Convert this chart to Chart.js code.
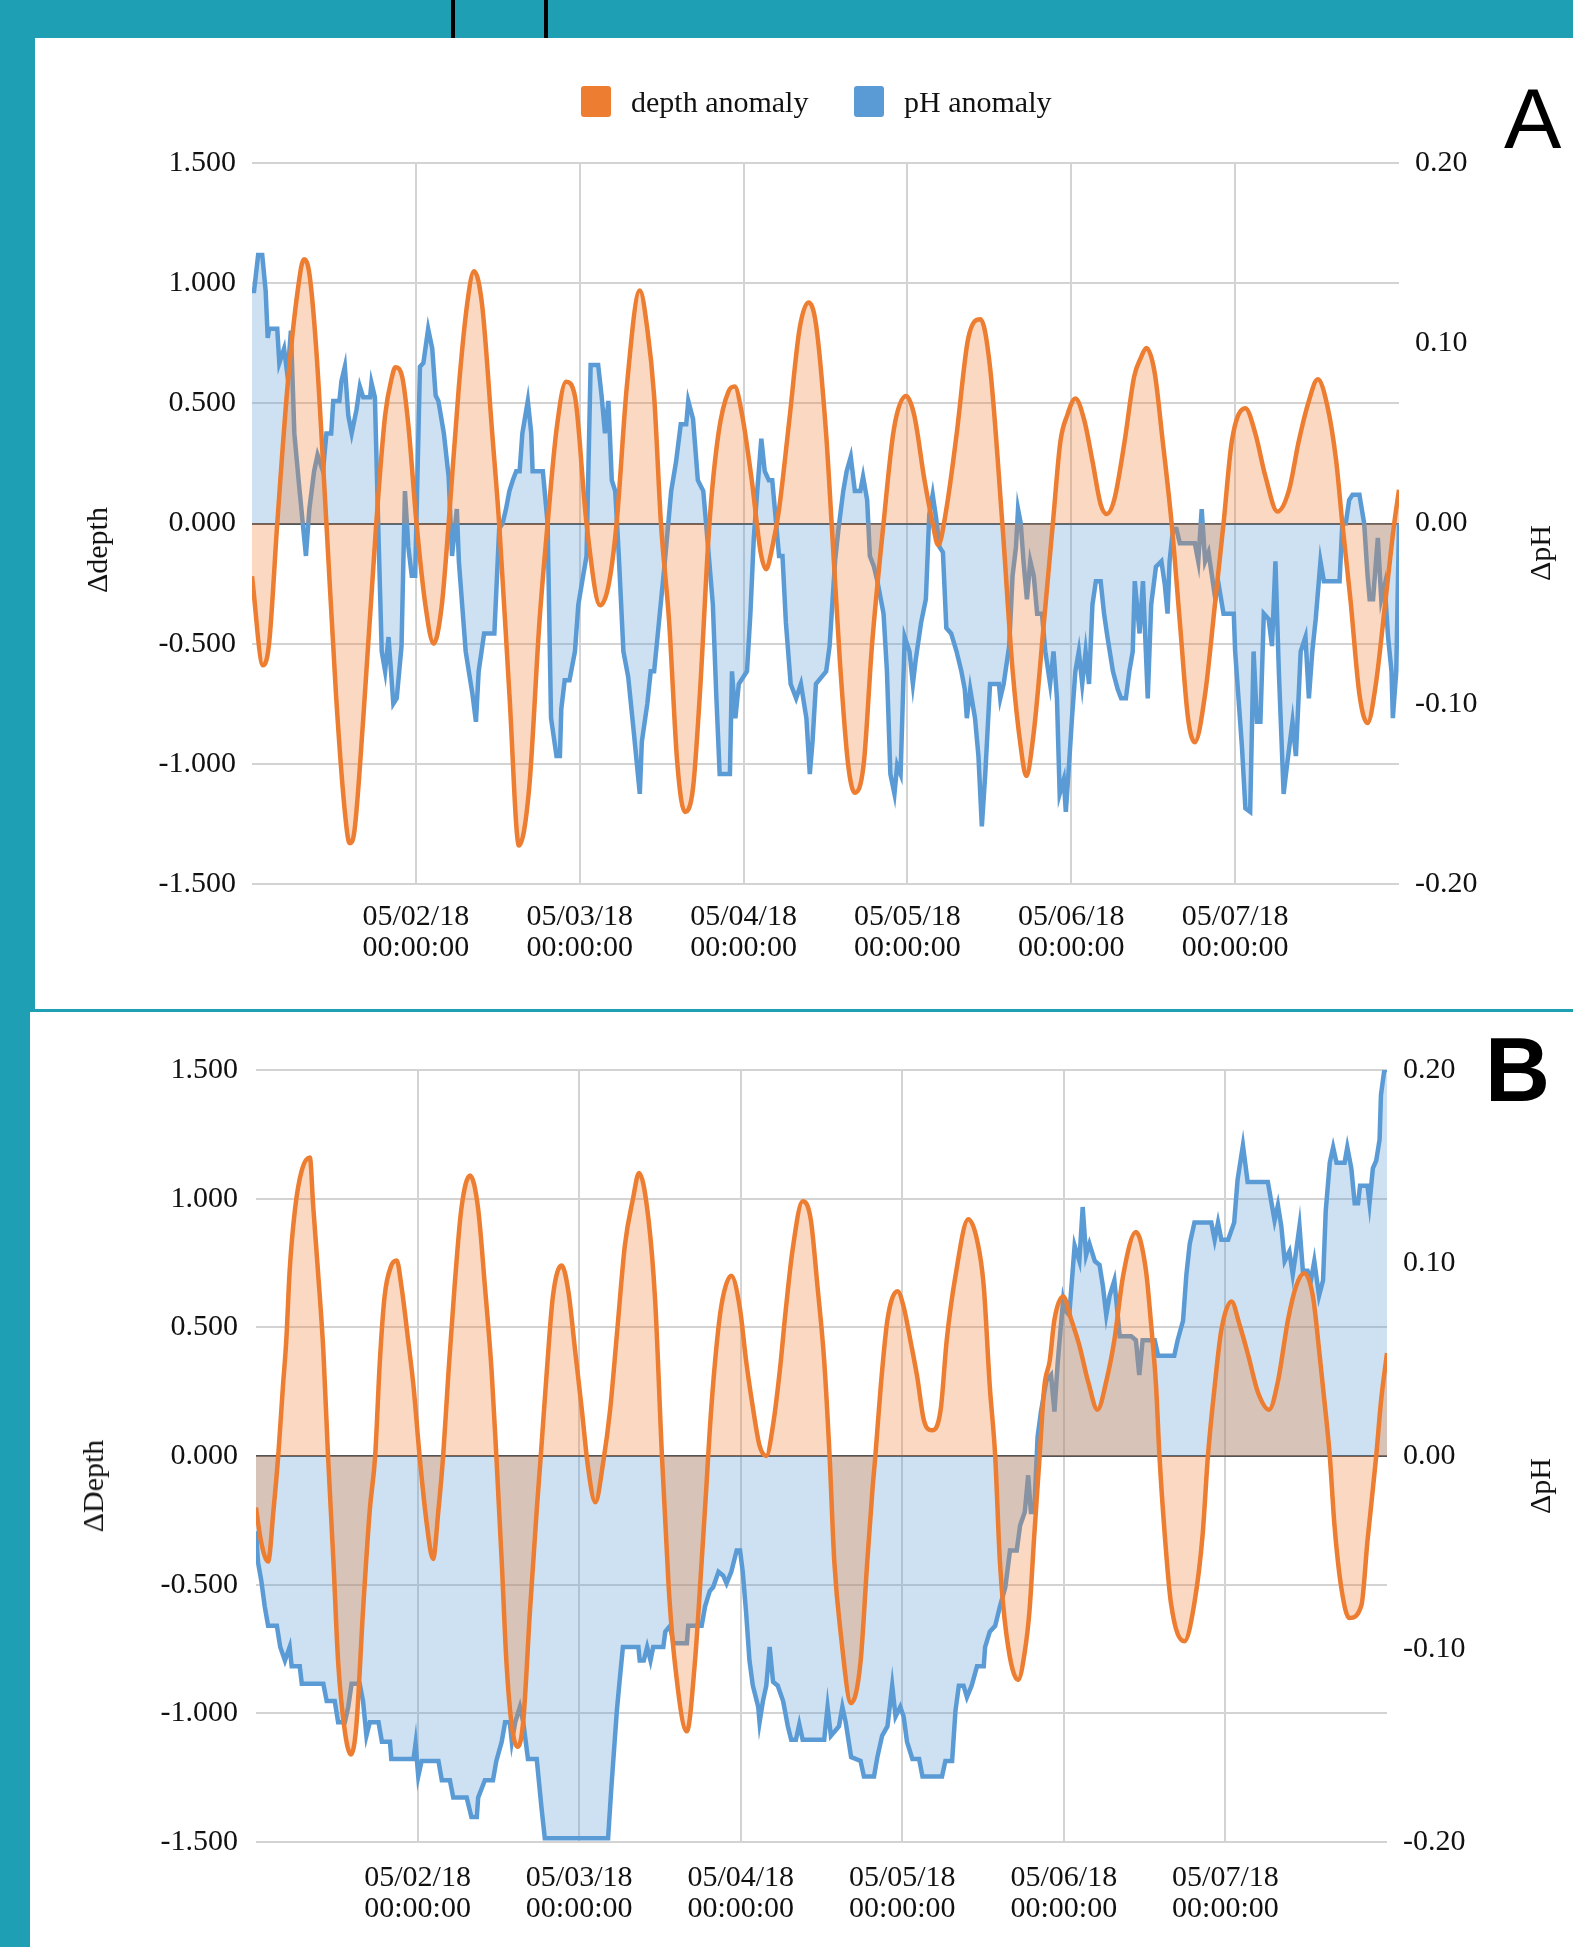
<!DOCTYPE html>
<html><head><meta charset="utf-8">
<script src="https://cdn.jsdelivr.net/npm/chart.js@4.4.1/dist/chart.umd.min.js"></script>
<style>
html,body{margin:0;padding:0;}
body{width:1573px;height:1947px;background:#1f9fb4;position:relative;overflow:hidden;font-family:"Liberation Serif","Times New Roman",serif;color:#111;}
.panel{position:absolute;background:#fff;}
.vline{position:absolute;top:0;width:4px;height:38px;background:#000;}
canvas{position:absolute;}
.t{position:absolute;font-size:30px;white-space:nowrap;line-height:1;}
.rot{transform:translate(-50%,-50%) rotate(-90deg);}
.box{position:absolute;width:30px;height:31px;border-radius:3px;}
.letter{position:absolute;font-family:"Liberation Sans",Arial,sans-serif;line-height:1;color:#000;}
</style></head>
<body>
<div class="vline" style="left:451px"></div>
<div class="vline" style="left:544px"></div>
<div class="panel" style="left:35px;top:38px;width:1538px;height:971px"></div>
<div class="panel" style="left:30px;top:1012px;width:1543px;height:935px"></div>
<canvas id="cA" width="1538" height="971" style="left:35px;top:38px;width:1538px;height:971px"></canvas>
<canvas id="cB" width="1543" height="935" style="left:30px;top:1012px;width:1543px;height:935px"></canvas>

<div class="box" style="left:581px;top:86px;background:#ed7d31"></div>
<div class="t" style="left:631px;top:87px;">depth anomaly</div>
<div class="box" style="left:854px;top:86px;background:#5b9bd5"></div>
<div class="t" style="left:904px;top:87px;">pH anomaly</div>

<div class="t rot" style="left:97px;top:550px;">Δdepth</div>
<div class="t rot" style="left:1540px;top:553px;">ΔpH</div>
<div class="t rot" style="left:93px;top:1486px;">ΔDepth</div>
<div class="t rot" style="left:1540px;top:1486px;">ΔpH</div>

<div class="letter" style="left:1504px;top:75px;font-size:86px;">A</div>
<div class="letter" style="left:1485px;top:1025px;font-size:90px;font-weight:bold;">B</div>

<script>
// time axis in hours since 05/01/18 00:00:00
const tickHours = [24, 48, 72, 96, 120, 144];
const tickLabels = [
  ["05/02/18","00:00:00"],["05/03/18","00:00:00"],["05/04/18","00:00:00"],
  ["05/05/18","00:00:00"],["05/06/18","00:00:00"],["05/07/18","00:00:00"]
];
const depthTicks = [-1.5, -1.0, -0.5, 0, 0.5, 1.0, 1.5];
const phTicks = [-0.2, -0.1, 0, 0.1, 0.2];

// Panel A: depth anomaly [hour, value]
const depthA = [[0,-0.22],[1.6,-0.59],[2.5,-0.5],[3.7,0],[5.2,0.57],[6.7,0.97],[7.6,1.1],[8.4,1.04],[9.4,0.73],[10.9,0],[12.3,-0.71],[13.6,-1.2],[14.3,-1.33],[15.0,-1.28],[16.3,-0.81],[18.2,0],[19.5,0.45],[20.5,0.61],[21.0,0.65],[22.0,0.61],[22.9,0.41],[24.1,0],[25.4,-0.34],[26.6,-0.5],[27.8,-0.34],[28.8,0],[30.3,0.57],[31.5,0.91],[32.5,1.05],[33.7,0.91],[35.2,0.37],[36.2,0],[37.7,-0.71],[39.1,-1.34],[40.6,-1.1],[42.1,-0.41],[43.3,0],[44.6,0.39],[46.0,0.59],[47.3,0.53],[49.0,0],[51.0,-0.34],[52.2,-0.26],[53.4,0],[54.9,0.57],[56.8,0.97],[57.9,0.81],[58.9,0.53],[59.9,0],[61.1,-0.41],[62.3,-1.0],[63.4,-1.2],[64.6,-1.1],[65.6,-0.71],[67.0,0],[68.3,0.37],[69.8,0.55],[70.7,0.57],[71.8,0.45],[73.2,0.18],[74.5,-0.12],[75.3,-0.19],[76.2,-0.1],[77.2,0.06],[78.7,0.43],[80.2,0.81],[81.5,0.92],[82.6,0.83],[84.1,0.37],[84.9,0],[86.1,-0.57],[87.3,-1.0],[88.3,-1.12],[89.6,-1.0],[90.8,-0.51],[92.5,0],[94.0,0.39],[95.8,0.53],[97.0,0.45],[98.5,0.18],[99.7,0],[100.5,-0.09],[101.7,0.06],[103.2,0.37],[104.9,0.77],[106.7,0.85],[108.1,0.65],[109.9,0],[111.4,-0.61],[112.6,-0.93],[113.4,-1.05],[114.5,-0.87],[116.0,-0.41],[117.3,0],[118.4,0.34],[119.4,0.45],[120.6,0.52],[121.9,0.43],[123.1,0.26],[124.3,0.08],[125.2,0.04],[126.3,0.1],[127.8,0.34],[129.2,0.61],[130.2,0.69],[131.0,0.73],[132.2,0.63],[133.4,0.34],[134.7,0],[135.9,-0.41],[137.1,-0.81],[138.1,-0.91],[139.6,-0.71],[141.1,-0.32],[142.3,0],[143.5,0.34],[145.5,0.48],[147.0,0.37],[148.4,0.2],[150.2,0.05],[151.9,0.14],[153.3,0.34],[154.8,0.51],[156.1,0.6],[157.5,0.49],[158.8,0.26],[159.7,0],[160.9,-0.32],[162.2,-0.71],[163.4,-0.83],[164.6,-0.67],[166.1,-0.3],[167.3,0],[168,0.14]];

// Panel A: pH anomaly [hour, value]
const phA = [[0,0.129],[0.3,0.129],[0.9,0.149],[1.5,0.149],[2.0,0.129],[2.3,0.103],[2.5,0.108],[3.7,0.108],[4.0,0.089],[4.7,0.097],[5.2,0.082],[5.7,0.107],[6.2,0.05],[6.9,0.021],[7.9,-0.018],[8.4,0.008],[9.1,0.029],[9.6,0.038],[10.4,0.029],[10.9,0.05],[11.6,0.05],[11.9,0.068],[12.8,0.068],[13.1,0.079],[13.6,0.087],[14.1,0.06],[14.6,0.05],[15.3,0.063],[15.8,0.076],[16.3,0.07],[17.3,0.07],[17.5,0.078],[18.0,0.07],[18.5,-0.003],[19.0,-0.071],[19.5,-0.082],[20.0,-0.063],[20.7,-0.1],[21.2,-0.097],[21.9,-0.068],[22.4,0.018],[22.9,-0.013],[23.4,-0.029],[23.9,-0.029],[24.6,0.087],[25.1,0.089],[25.8,0.108],[26.4,0.097],[26.9,0.071],[27.3,0.068],[28.1,0.05],[28.8,0.026],[29.3,-0.018],[30.0,0.008],[30.3,-0.021],[31.3,-0.071],[32.3,-0.095],[32.8,-0.11],[33.2,-0.082],[34.0,-0.061],[35.5,-0.061],[36.2,-0.003],[36.7,0],[37.2,0.008],[37.7,0.018],[38.2,0.024],[38.7,0.029],[39.2,0.029],[39.6,0.05],[40.4,0.068],[40.9,0.05],[41.1,0.029],[42.6,0.029],[43.3,0],[43.8,-0.108],[44.6,-0.129],[45.1,-0.129],[45.3,-0.103],[45.8,-0.087],[46.5,-0.087],[47.3,-0.071],[47.8,-0.045],[48.5,-0.029],[49.0,-0.018],[49.6,0.088],[50.7,0.088],[51.2,0.071],[51.7,0.05],[52.2,0.068],[52.7,0.024],[53.2,0.018],[53.7,-0.016],[54.4,-0.071],[55.1,-0.085],[55.9,-0.115],[56.8,-0.15],[57.1,-0.121],[57.9,-0.1],[58.4,-0.082],[58.9,-0.082],[59.6,-0.055],[60.4,-0.024],[61.4,0.018],[62.1,0.034],[62.8,0.055],[63.6,0.055],[63.9,0.068],[64.6,0.058],[65.3,0.024],[66.1,0.018],[66.8,-0.013],[67.5,-0.045],[68.0,-0.095],[68.5,-0.139],[70.0,-0.139],[70.3,-0.082],[70.8,-0.108],[71.3,-0.089],[72.5,-0.082],[73.0,-0.05],[73.5,-0.008],[74.0,0.018],[74.6,0.047],[75.1,0.029],[75.7,0.024],[76.2,0.024],[76.7,0.003],[77.2,-0.018],[77.7,-0.018],[78.2,-0.055],[78.9,-0.089],[79.7,-0.097],[80.4,-0.089],[81.2,-0.108],[81.7,-0.139],[82.1,-0.121],[82.6,-0.089],[84.1,-0.082],[84.6,-0.068],[85.4,-0.021],[85.9,-0.003],[86.6,0.018],[87.1,0.029],[87.7,0.037],[88.3,0.018],[89.1,0.018],[89.5,0.026],[90.1,0.013],[90.5,-0.018],[91.1,-0.024],[91.6,-0.032],[92.1,-0.042],[92.5,-0.05],[93.0,-0.082],[93.5,-0.139],[94.1,-0.15],[94.5,-0.134],[95.0,-0.139],[95.6,-0.063],[96.3,-0.071],[96.8,-0.089],[97.2,-0.076],[98.0,-0.055],[98.7,-0.042],[99.2,0.005],[99.7,0.016],[100.2,0.003],[100.7,-0.013],[101.2,-0.016],[101.7,-0.058],[102.4,-0.061],[103.2,-0.071],[103.9,-0.082],[104.4,-0.092],[104.7,-0.108],[105.2,-0.092],[105.9,-0.108],[106.4,-0.129],[106.9,-0.168],[107.4,-0.139],[108.1,-0.089],[109.4,-0.089],[109.6,-0.097],[110.1,-0.089],[110.9,-0.068],[111.4,-0.029],[111.9,-0.013],[112.2,0.008],[112.6,0.0],[113.0,-0.021],[113.5,-0.042],[114.0,-0.021],[114.5,-0.029],[115.0,-0.05],[115.7,-0.05],[116.2,-0.071],[116.9,-0.089],[117.4,-0.071],[117.9,-0.097],[118.3,-0.15],[118.9,-0.142],[119.2,-0.16],[119.7,-0.132],[120.1,-0.108],[120.6,-0.082],[121.1,-0.071],[121.6,-0.089],[122.1,-0.071],[122.6,-0.089],[123.1,-0.045],[123.6,-0.032],[124.3,-0.032],[124.8,-0.05],[125.3,-0.063],[126.1,-0.082],[126.8,-0.092],[127.3,-0.097],[128.0,-0.097],[128.5,-0.082],[129.0,-0.071],[129.3,-0.032],[130.0,-0.061],[130.5,-0.032],[131.2,-0.097],[131.7,-0.045],[132.4,-0.024],[133.2,-0.021],[133.7,-0.034],[134.1,-0.05],[134.4,-0.021],[134.9,-0.003],[135.4,-0.003],[135.9,-0.011],[138.1,-0.011],[138.6,-0.021],[139.1,0.008],[139.6,-0.021],[140.1,-0.016],[140.6,-0.029],[141.1,-0.042],[141.5,-0.032],[142.3,-0.05],[143.8,-0.05],[144.0,-0.071],[145.0,-0.124],[145.5,-0.158],[146.2,-0.16],[146.7,-0.071],[147.2,-0.11],[147.7,-0.11],[148.2,-0.05],[148.9,-0.053],[149.4,-0.068],[149.9,-0.021],[150.4,-0.082],[151.1,-0.15],[151.6,-0.134],[152.4,-0.11],[152.9,-0.129],[153.6,-0.071],[154.3,-0.063],[154.8,-0.097],[155.3,-0.071],[155.8,-0.053],[156.5,-0.021],[157.0,-0.032],[159.3,-0.032],[159.7,0],[160.2,0],[160.7,0.013],[161.2,0.016],[162.2,0.016],[162.9,0],[163.4,-0.029],[163.7,-0.042],[164.2,-0.042],[164.9,-0.008],[165.4,-0.042],[165.9,-0.034],[166.4,-0.063],[166.9,-0.082],[167.1,-0.108],[167.6,-0.082],[168,0]];

// Panel B: depth anomaly [hour, value]
const depthB = [[0,-0.2],[0.6,-0.31],[1.3,-0.39],[1.8,-0.41],[2.6,-0.21],[3.3,0],[4.0,0.27],[4.5,0.45],[5.0,0.72],[5.8,0.96],[6.8,1.11],[8.0,1.16],[8.5,0.97],[9.2,0.72],[10.0,0.41],[10.7,0],[11.5,-0.41],[12.2,-0.8],[13.2,-1.07],[14.1,-1.16],[14.9,-1.05],[15.9,-0.6],[16.9,-0.21],[17.7,0],[18.4,0.37],[19.1,0.62],[20.1,0.74],[20.9,0.76],[21.6,0.66],[22.6,0.45],[23.4,0.27],[24.3,0],[25.3,-0.25],[26.3,-0.4],[27.1,-0.21],[27.8,0],[28.6,0.33],[29.5,0.66],[30.5,0.96],[31.8,1.09],[33.0,0.96],[34.0,0.66],[35.0,0.33],[35.7,0],[36.5,-0.41],[37.2,-0.8],[38.0,-1.05],[38.9,-1.13],[39.7,-1.03],[40.7,-0.6],[41.7,-0.21],[42.3,0],[43.2,0.33],[44.1,0.62],[45.4,0.74],[46.4,0.64],[47.4,0.41],[48.4,0.18],[49.3,-0.04],[50.4,-0.18],[51.6,-0.02],[52.6,0.18],[53.6,0.47],[54.8,0.82],[56.0,1.0],[56.9,1.1],[58.3,0.92],[59.3,0.6],[60.3,0],[61.3,-0.51],[62.2,-0.8],[64.0,-1.07],[65.2,-0.8],[66.2,-0.41],[66.9,-0.12],[67.4,0.1],[68.2,0.37],[69.1,0.58],[70.6,0.7],[71.9,0.57],[72.8,0.37],[73.8,0.19],[74.8,0.04],[75.8,0],[76.8,0.12],[77.8,0.33],[78.7,0.57],[79.7,0.8],[81.2,0.99],[82.4,0.92],[83.4,0.66],[84.4,0.37],[85.2,0],[85.9,-0.41],[86.9,-0.7],[88.4,-0.96],[89.8,-0.8],[90.8,-0.41],[91.6,-0.12],[92.0,0],[92.8,0.27],[93.8,0.53],[95.3,0.64],[96.2,0.58],[97.2,0.45],[98.2,0.31],[99.2,0.14],[100.4,0.1],[101.7,0.18],[102.6,0.45],[103.9,0.7],[105.8,0.92],[107.1,0.84],[108.1,0.66],[109.0,0.27],[109.8,0],[110.5,-0.41],[111.5,-0.7],[113.2,-0.87],[114.2,-0.76],[114.9,-0.6],[115.6,-0.31],[116.4,0],[117.1,0.27],[117.9,0.37],[118.6,0.53],[119.9,0.62],[121.1,0.53],[122.3,0.43],[123.6,0.29],[125.0,0.18],[126.3,0.29],[127.5,0.45],[128.8,0.7],[130.7,0.87],[132.2,0.72],[132.9,0.53],[133.7,0.27],[134.2,0],[135.0,-0.31],[135.9,-0.57],[137.9,-0.72],[139.4,-0.57],[140.6,-0.31],[141.4,0],[142.4,0.27],[143.4,0.49],[144.9,0.6],[146.1,0.51],[147.4,0.39],[148.8,0.25],[150.5,0.18],[151.8,0.29],[153.3,0.53],[154.5,0.66],[155.7,0.71],[157.0,0.62],[158.0,0.39],[159.0,0.14],[159.5,0],[160.2,-0.27],[161.2,-0.51],[162.4,-0.63],[164.2,-0.58],[165.1,-0.33],[166.4,0],[167.1,0.21],[168,0.4]];

// Panel B: pH anomaly [hour, value]
const phB = [[0,-0.039],[0.3,-0.055],[0.8,-0.065],[1.3,-0.078],[1.8,-0.088],[3.1,-0.088],[3.6,-0.099],[4.3,-0.106],[5.0,-0.099],[5.3,-0.109],[6.5,-0.109],[6.8,-0.118],[10.0,-0.118],[10.5,-0.127],[11.7,-0.127],[12.2,-0.138],[13.2,-0.138],[13.7,-0.13],[14.2,-0.118],[15.4,-0.118],[15.9,-0.127],[16.4,-0.145],[16.9,-0.138],[18.2,-0.138],[18.7,-0.148],[19.9,-0.148],[20.1,-0.157],[23.4,-0.157],[23.7,-0.149],[24.1,-0.166],[24.6,-0.158],[27.1,-0.158],[27.6,-0.168],[28.8,-0.168],[29.3,-0.177],[31.3,-0.177],[32.0,-0.187],[32.8,-0.187],[33.0,-0.177],[34.0,-0.168],[35.2,-0.168],[35.7,-0.158],[36.5,-0.148],[37.0,-0.138],[37.7,-0.138],[38.0,-0.148],[38.5,-0.138],[39.2,-0.13],[39.7,-0.138],[40.4,-0.157],[41.7,-0.157],[42.4,-0.182],[42.9,-0.198],[52.3,-0.198],[52.8,-0.171],[53.6,-0.132],[54.0,-0.117],[54.5,-0.099],[56.8,-0.099],[57.0,-0.106],[57.6,-0.106],[58.1,-0.099],[58.6,-0.106],[59.0,-0.099],[60.5,-0.099],[60.8,-0.091],[61.5,-0.088],[62.0,-0.097],[64.0,-0.097],[64.2,-0.088],[66.2,-0.088],[66.7,-0.078],[67.4,-0.07],[67.9,-0.068],[68.7,-0.06],[69.4,-0.062],[69.9,-0.066],[70.6,-0.06],[71.4,-0.049],[71.9,-0.049],[72.3,-0.06],[72.8,-0.081],[73.3,-0.106],[73.8,-0.119],[74.6,-0.13],[74.8,-0.138],[75.3,-0.127],[75.8,-0.119],[76.3,-0.099],[76.8,-0.117],[77.5,-0.119],[78.3,-0.127],[79.0,-0.14],[79.5,-0.147],[80.2,-0.147],[80.7,-0.139],[81.2,-0.147],[84.4,-0.147],[84.9,-0.13],[85.4,-0.145],[86.6,-0.14],[87.1,-0.13],[87.6,-0.138],[88.4,-0.156],[89.8,-0.158],[90.3,-0.166],[91.8,-0.166],[92.3,-0.156],[93.0,-0.145],[93.8,-0.14],[94.5,-0.119],[95.0,-0.135],[95.7,-0.13],[96.2,-0.135],[96.7,-0.148],[97.5,-0.157],[98.5,-0.157],[99.0,-0.166],[101.9,-0.166],[102.4,-0.158],[103.4,-0.158],[103.9,-0.132],[104.4,-0.119],[105.1,-0.119],[105.6,-0.125],[106.3,-0.119],[107.1,-0.109],[108.1,-0.109],[108.3,-0.099],[109.0,-0.091],[109.8,-0.088],[110.5,-0.078],[111.3,-0.068],[112.0,-0.049],[113.0,-0.049],[113.5,-0.036],[114.2,-0.029],[114.7,-0.01],[115.1,-0.029],[115.6,-0.029],[116.1,0.01],[116.6,0.023],[117.4,0.039],[118.1,0.042],[118.6,0.023],[119.1,0.049],[119.9,0.081],[120.3,0.075],[120.8,0.073],[121.6,0.109],[122.3,0.101],[122.8,0.129],[123.3,0.104],[123.8,0.11],[124.6,0.101],[125.3,0.099],[125.8,0.088],[126.3,0.073],[126.8,0.083],[127.5,0.091],[128.0,0.073],[128.3,0.062],[130.0,0.062],[130.7,0.06],[131.2,0.042],[131.7,0.06],[133.5,0.06],[134.0,0.052],[136.4,0.052],[136.9,0.06],[137.7,0.07],[138.2,0.094],[138.7,0.11],[139.4,0.121],[141.9,0.121],[142.4,0.112],[142.9,0.121],[143.4,0.112],[144.4,0.112],[145.3,0.121],[145.8,0.143],[146.6,0.161],[147.3,0.142],[150.3,0.142],[150.8,0.132],[151.3,0.122],[151.8,0.13],[152.3,0.119],[152.8,0.101],[153.5,0.106],[154.0,0.094],[154.5,0.106],[155.0,0.119],[155.5,0.096],[156.2,0.096],[156.7,0.091],[157.2,0.101],[157.9,0.083],[158.5,0.091],[158.9,0.127],[159.5,0.152],[160.0,0.16],[160.5,0.152],[161.7,0.152],[162.1,0.16],[162.7,0.149],[163.2,0.131],[163.7,0.131],[164.0,0.14],[165.1,0.14],[165.4,0.131],[165.9,0.149],[166.4,0.153],[166.9,0.164],[167.1,0.187],[167.6,0.2],[168,0.2]];

const ORANGE = '#ed7d31', BLUE = '#5b9bd5';
const FONT = {family: '"Liberation Serif","Times New Roman",serif', size: 30};
const TXT = '#111111';

function makeChart(id, depth, ph, L) {
  const toXY = arr => arr.map(p => ({x: p[0], y: p[1]}));
  return new Chart(document.getElementById(id), {
    type: 'line',
    data: {
      datasets: [
        {label: 'depth anomaly', data: toXY(depth), yAxisID: 'y', borderColor: ORANGE,
         backgroundColor: 'rgba(237,125,49,0.3)', fill: 'origin', borderWidth: 4.5,
         pointRadius: 0, cubicInterpolationMode: 'monotone', order: 0},
        {label: 'pH anomaly', data: toXY(ph), yAxisID: 'y1', borderColor: BLUE,
         backgroundColor: 'rgba(91,155,213,0.3)', fill: 'origin', borderWidth: 4.5,
         pointRadius: 0, tension: 0, order: 1}
      ]
    },
    options: {
      responsive: false, animation: false, devicePixelRatio: 1,
      layout: {padding: {left: 0, right: 0, top: L.top, bottom: 0}},
      plugins: {legend: {display: false}, tooltip: {enabled: false}},
      scales: {
        x: {
          type: 'linear', min: 0, max: 168,
          afterBuildTicks: s => { s.ticks = tickHours.map(v => ({value: v})); },
          afterFit: s => { s.height = L.xh; },
          ticks: {callback: v => tickLabels[tickHours.indexOf(v)], font: {...FONT, lineHeight: 1.05},
                  color: TXT, padding: L.xpad, maxRotation: 0, autoSkip: false},
          grid: {color: '#d3d3d3', lineWidth: 2, drawTicks: false},
          border: {display: false}
        },
        y: {
          position: 'left', min: -1.5, max: 1.5,
          afterBuildTicks: s => { s.ticks = depthTicks.map(v => ({value: v})); },
          afterFit: s => { s.width = L.yl; },
          ticks: {callback: v => v.toFixed(3), font: FONT, color: TXT, padding: L.ylpad},
          grid: {color: c => (c.tick && c.tick.value === 0) ? '#555555' : '#d3d3d3', lineWidth: 2, drawTicks: false},
          border: {display: false}
        },
        y1: {
          position: 'right', min: -0.2, max: 0.2,
          afterBuildTicks: s => { s.ticks = phTicks.map(v => ({value: v})); },
          afterFit: s => { s.width = L.yr; },
          ticks: {callback: v => v.toFixed(2), font: FONT, color: TXT, padding: 16},
          grid: {drawOnChartArea: false, drawTicks: false},
          border: {display: false}
        }
      }
    }
  });
}

makeChart('cA', depthA, phA, {top: 125, xh: 125, yl: 217, yr: 174, xpad: 17, ylpad: 16});
makeChart('cB', depthB, phB, {top: 58, xh: 105, yl: 226, yr: 186, xpad: 20, ylpad: 18});
</script>
</body></html>
